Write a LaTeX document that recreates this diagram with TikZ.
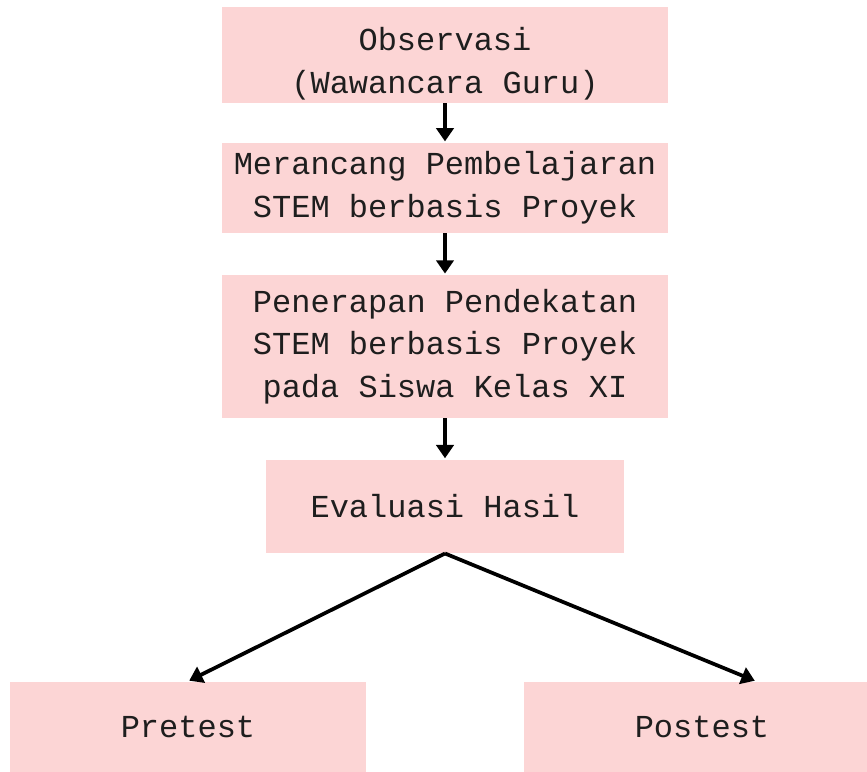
\documentclass[tikz,border=0pt]{standalone}
\usepackage{fontspec}
\setmonofont{Liberation Mono}
\usepackage{tikz}
\usetikzlibrary{arrows.meta,positioning}
\definecolor{boxpink}{RGB}{252,213,213}
\definecolor{inkdark}{RGB}{30,30,30}
\tikzset{
  stage/.style={rectangle, fill=boxpink, text=inkdark, align=center,
    font=\ttfamily\fontsize{24}{32}\selectfont, inner sep=0pt},
  wide/.style={stage, minimum width=334.5pt},
  small/.style={stage, minimum width=268.5pt, minimum height=70pt},
  flow/.style={->, line width=2.8pt, draw=black}
}

\begin{document}
\begin{tikzpicture}[shorten >=1pt, on grid, >={Triangle[width=13pt,length=10pt]}]
	\useasboundingbox (-333.75pt,41.25pt) rectangle (316.5pt,-537pt);
	\node[wide, minimum height=72pt] (obs) {\rule{0pt}{30pt}Observasi\\(Wawancara Guru)};
	\node[wide, minimum height=67.5pt] (plan) [below=99.75pt of obs] {Merancang Pembelajaran\\STEM berbasis Proyek};
	\node[wide, minimum height=107pt] (apply) [below=118.9pt of plan] {Penerapan Pendekatan\\STEM berbasis Proyek\\pada Siswa Kelas XI};
	\node[small] (eval) [below=120pt of apply] {Evaluasi Hasil};
	\node[stage, minimum width=267pt, minimum height=67.5pt] (pre) [below left=165pt and 192.75pt of eval] {Pretest};
	\node[stage, minimum width=267pt, minimum height=67.5pt] (post) [below right=165pt and 192.75pt of eval] {Postest};
	\draw[flow] (obs) -- (plan);
	\draw[flow] (plan) -- (apply);
	\draw[flow] (apply) -- (eval);
	\draw[flow] (eval.south) -- (pre.north);
	\draw[flow] (eval.south) -- ([xshift=40.5pt]post.north);
\end{tikzpicture}
\end{document}
